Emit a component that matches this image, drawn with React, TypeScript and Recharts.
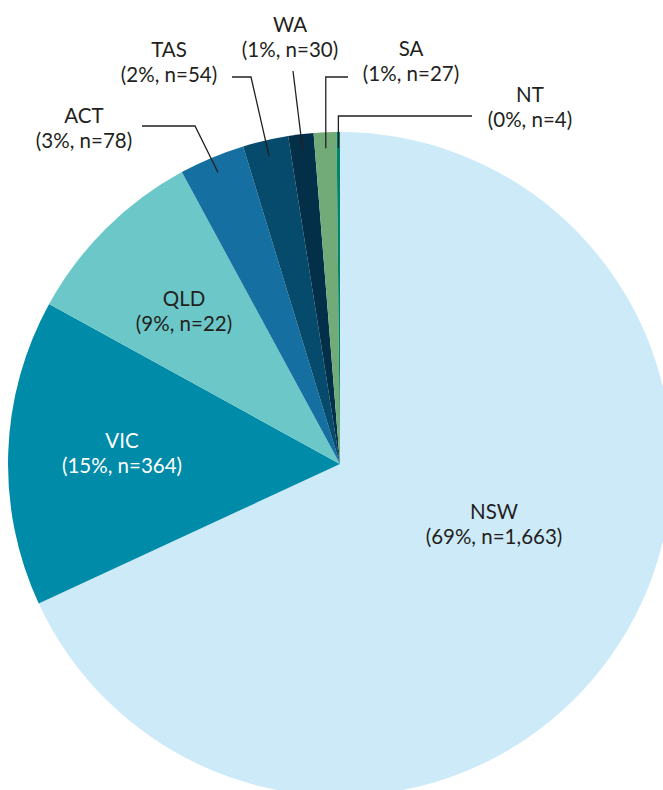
import React from "react";
import { PieChart, Pie, Cell } from "recharts";

const STATES = ["NSW", "VIC", "QLD", "ACT", "TAS", "WA", "SA", "NT"];
const COUNTS = [1663, 364, 222, 78, 54, 30, 27, 4];
const PERCENT_TEXT = ["69%", "15%", "9%", "3%", "2%", "1%", "1%", "0%"];
const N_TEXT = ["1,663", "364", "22", "78", "54", "30", "27", "4"];

const COLORS = [
  "#cdeaf9",
  "#008ba8",
  "#6cc8c8",
  "#166fa1",
  "#064a6c",
  "#042f49",
  "#72ab77",
  "#00856a",
];

const data = STATES.map((state, i) => ({ state, value: COUNTS[i] }));

const CX = 340;
const CY = 464;
const R = 332;
const FONT = "Lato, sans-serif";
const TEXT_COLOR = "#231f20";
const LINE_GAP = 25;

// label text position (centre x, first baseline) relative to the pie centre
const LABEL_POS: [number, number][] = [
  [154, 55],
  [-218, -16],
  [-156, -158],
  [-256, -341],
  [-171, -407],
  [-50, -432],
  [71, -408],
  [190, -362],
];

// leader line bends, relative to the pie centre ("start" keeps the line vertical)
const LEADERS: ([number | "start", number][] | null)[] = [
  null,
  null,
  null,
  [[-145, -338], [-198, -338]],
  [[-89, -387], [-108, -387]],
  [[-47, -393]],
  [["start", -387], [8, -387]],
  [["start", -348], [132, -348]],
];

const RADIAN = Math.PI / 180;

const renderLabel = (props: any) => {
  const { cx, cy, midAngle, outerRadius, index } = props;
  const [lx, ly] = LABEL_POS[index];
  const lead = LEADERS[index];
  let path = "";
  if (lead) {
    const sx = cx + (outerRadius - 16) * Math.cos(-midAngle * RADIAN);
    const sy = cy + (outerRadius - 16) * Math.sin(-midAngle * RADIAN);
    path = `M${sx},${sy}`;
    lead.forEach(([px, py]) => {
      const x = px === "start" ? sx : cx + px;
      path += ` L${x},${cy + py}`;
    });
  }
  const fill = index === 1 ? "#ffffff" : TEXT_COLOR;
  return (
    <g key={`label-${index}`}>
      {lead && (
        <path d={path} fill="none" stroke={TEXT_COLOR} strokeWidth={1.3} />
      )}
      <text
        x={cx + lx}
        y={cy + ly}
        textAnchor="middle"
        fill={fill}
        fontFamily={FONT}
        fontSize={20.5}
      >
        <tspan x={cx + lx}>{STATES[index]}</tspan>
        <tspan x={cx + lx} dy={LINE_GAP}>
          {`(${PERCENT_TEXT[index]}, n=${N_TEXT[index]})`}
        </tspan>
      </text>
    </g>
  );
};

export default function App() {
  return (
    <div style={{ position: "fixed", top: 0, left: 0, background: "#fff" }}>
      <PieChart
        width={663}
        height={790}
        margin={{ top: 0, right: 0, bottom: 0, left: 0 }}
      >
        <Pie
          data={data}
          dataKey="value"
          nameKey="state"
          cx={CX}
          cy={CY}
          outerRadius={R}
          startAngle={90}
          endAngle={-270}
          stroke="none"
          label={renderLabel}
          labelLine={false}
          isAnimationActive={false}
        >
          {data.map((entry, index) => (
            <Cell key={`cell-${index}`} fill={COLORS[index]} />
          ))}
        </Pie>
      </PieChart>
    </div>
  );
}
